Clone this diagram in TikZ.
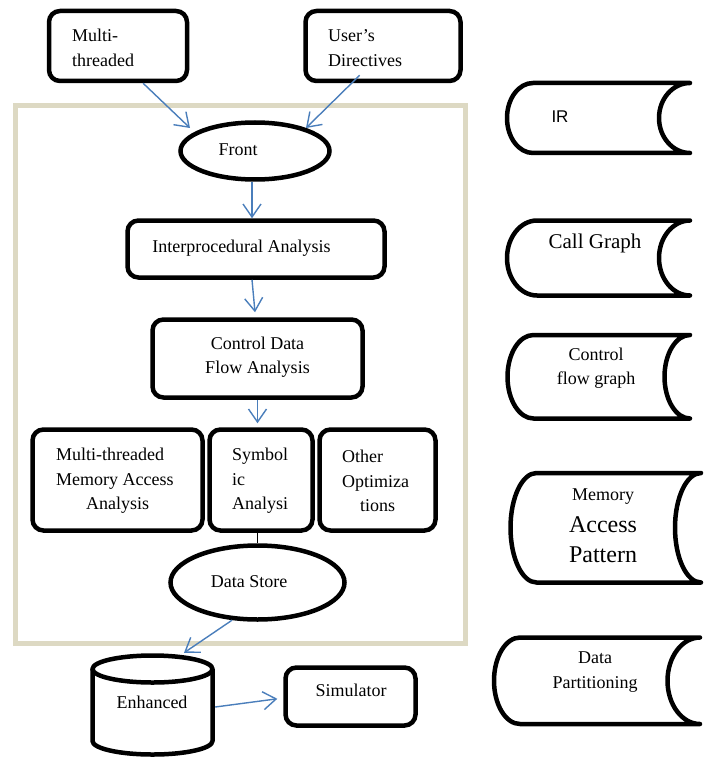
\documentclass[tikz,border=0pt]{standalone}
\usepackage{fontspec}
\setmainfont{Liberation Serif}
\newfontfamily\arialfont{Liberation Sans}
\usetikzlibrary{arrows.meta,shapes.geometric}
\definecolor{framebeige}{HTML}{DDD9C3}
\definecolor{arrowblue}{HTML}{4A7EBB}
\tikzset{
  box/.style={draw, line width=4.5pt, rounded corners=11pt, inner sep=0pt, fill=white},
  oval/.style={draw, ellipse, line width=4.5pt, inner sep=0pt, fill=white},
  shapeline/.style={draw, line width=4.5pt, line join=round, fill=white},
  arr/.style={draw=arrowblue, line width=1.4pt, -{Straight Barb[length=13pt,width=18pt]}},
  tx/.style={inner sep=0pt, font=\fontsize{18}{24.5}\selectfont},
  txbig/.style={inner sep=0pt, font=\fontsize{24}{28}\selectfont},
}
\newcommand\storedshape[7]{%
  \pgfmathsetmacro\sdym{(#2+#4)/2}%
  \pgfmathsetmacro\sdhh{(#4-#2)/2}%
  \draw[shapeline] ({#1+#5},#2) -- (#3,#2)
    .. controls ({#3-0.552*#6},#2) and ({#3-#6},{\sdym-0.552*\sdhh}) .. ({#3-#6},\sdym)
    .. controls ({#3-#6},{\sdym+0.552*\sdhh}) and ({#3-0.552*#6},#4) .. (#3,#4)
    -- ({#1+#5},#4)
    .. controls ({#1+#5-0.552*#5},#4) and (#1,{\sdym+0.552*\sdhh}) .. (#1,\sdym)
    .. controls (#1,{\sdym-0.552*\sdhh}) and ({#1+#5-0.552*#5},#2) .. cycle;
  \coordinate (#7) at ({(#1+#3)/2},\sdym);%
}
\begin{document}
\begin{tikzpicture}[x=1pt,y=-1pt]
\useasboundingbox (0,0) rectangle (706,759);

% frame
\draw[framebeige, line width=5pt] (15.5,105.5) rectangle (465.5,643.5);

% input boxes
\node[box, minimum width=138pt, minimum height=70pt] (mt) at (118,46) {};
\node[tx, anchor=west, align=left] (mtt) at (72,48) {Multi-\\threaded};
\node[box, minimum width=155pt, minimum height=70pt] (ud) at (383,46) {};
\node[tx, anchor=west, align=left] (udt) at (328,48) {User’s\\Directives};

% front
\node[oval, minimum width=149pt, minimum height=57pt] (front) at (255,151) {};
\node[tx] (frontt) at (238,150) {Front};

% interprocedural
\node[box, minimum width=257pt, minimum height=57pt] (interproc) at (256,249) {};
\node[tx] (interproct) at (241.5,248) {Interprocedural Analysis};

% control data flow
\node[box, minimum width=210pt, minimum height=78pt] (cdfa) at (257.5,358.5) {};
\node[tx, align=center] (cdfat) at (257.5,357) {Control Data\\Flow Analysis};

% three analysis boxes
\node[box, minimum width=170pt, minimum height=101pt] (mma) at (117.5,480) {};
\node[tx, anchor=west, align=left] (mmat) at (56,481) {Multi-threaded\\Memory Access\\\hspace*{30pt}Analysis};
\node[box, minimum width=103pt, minimum height=101pt] (sym) at (261,480) {};
\node[tx, anchor=west, align=left] (symt) at (232,481) {Symbol\\ic\\Analysi};
\node[box, minimum width=116pt, minimum height=101pt] (oth) at (377.5,480) {};
\node[tx, anchor=west, align=left] (otht) at (342,481) {Other\\Optimiza\\\hspace*{18pt}tions};

% data store
\node[oval, minimum width=174pt, minimum height=74pt] (ds) at (257.5,582.5) {};
\node[tx] (dst) at (249,582) {Data Store};

% enhanced cylinder
\node[minimum width=125pt, minimum height=104pt, inner sep=0pt] (enh) at (152.5,705) {};
\draw[shapeline] (92.5,669) -- (92.5,741)
  .. controls (92.5,748.45) and (119.4,754.5) .. (152.5,754.5)
  .. controls (185.6,754.5) and (212.5,748.45) .. (212.5,741) -- (212.5,669);
\draw[shapeline] (152.5,669) ellipse [x radius=60, y radius=13.5];
\node[tx] (enht) at (152,702) {Enhanced};

% simulator
\node[box, minimum width=130pt, minimum height=58pt] (sim) at (350.5,696.5) {};
\node[tx] (simt) at (351,690) {Simulator};

% connectors
\coordinate (fin1) at (190,128);
\coordinate (fin2) at (306,128);
\draw[arr] (mt.-56) -- (fin1);
\draw[arr] ([yshift=8pt]ud.-122) -- (fin2);
\draw[arr] ([xshift=-3pt]front.south) -- ([xshift=-4pt]interproc.north);
\draw[arr] ([xshift=-4pt]interproc.south) -- ([xshift=-2.5pt,yshift=5pt]cdfa.north);
\draw[arr, shorten >=4pt] (cdfa.south) -- (cdfa.south |- sym.north);
\draw[line width=1.6pt] (ds.north |- sym.south) -- (ds.north);
\draw[arr] (ds.236) -- ([xshift=31.5pt]enh.north);
\draw[arr, shorten >=6pt] ([yshift=-2pt]enh.east) -- ([yshift=-1.5pt]sim.west);

% stored data shapes
\storedshape{507}{83}{690}{153}{26}{31}{irs}
\node[inner sep=0pt, font=\arialfont\fontsize{17}{20}\selectfont] (irt) at (560,117) {IR};
\storedshape{507}{220.5}{690}{295.5}{30}{31}{cgs}
\node[inner sep=0pt, font=\fontsize{21}{24}\selectfont] (cgt) at (595,243) {Call Graph};
\storedshape{507.5}{335}{690}{418.5}{26}{25.5}{cfs}
\node[tx, align=center] (cft) at (596,368) {Control\\flow graph};
\storedshape{510.5}{473}{701}{582.5}{26}{26}{maps}
\node[tx] (mapt1) at (603,496.5) {Memory};
\node[txbig] (mapt2) at (603,525) {Access};
\node[txbig] (mapt3) at (603,555) {Pattern};
\storedshape{494}{637.5}{700}{724}{26}{32.5}{dps}
\node[tx, align=center] (dpt) at (595,672) {Data\\Partitioning};
\end{tikzpicture}
\end{document}
